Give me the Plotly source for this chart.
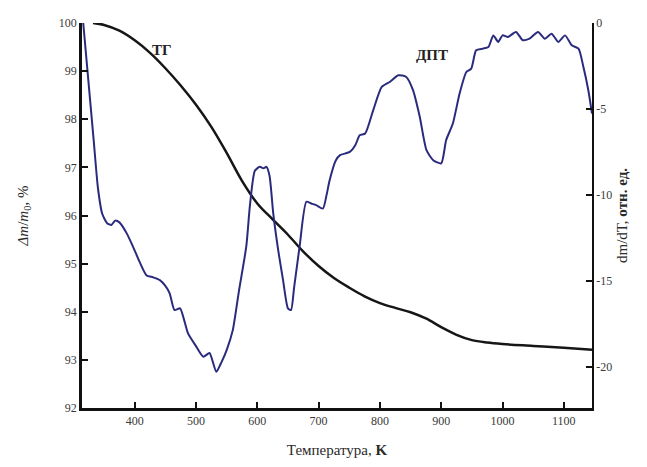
import plotly.graph_objects as go

# TG curve (left axis, %)
tg_temp = [332, 350, 375, 400, 425, 450, 475, 500, 525, 550, 575, 600, 625, 650, 675,
           700, 725, 750, 775, 800, 825, 850, 875, 900, 925, 950, 975, 1000, 1050, 1100, 1146]
tg_mass = [100.0, 99.96, 99.84, 99.64, 99.38, 99.06, 98.70, 98.30, 97.84, 97.30, 96.72, 96.25,
           95.92, 95.60, 95.25, 94.95, 94.70, 94.50, 94.32, 94.18, 94.08, 93.99, 93.86, 93.68,
           93.52, 93.41, 93.36, 93.33, 93.29, 93.25, 93.21]

# DTG curve (right axis, rel. units)
dtg_temp = [316, 325, 333, 340, 347, 355, 362, 368, 375, 387, 397, 408, 419, 430, 441, 450,
            457, 465, 474, 480, 487, 500, 512, 522, 533, 542, 550, 560, 570, 582, 588, 596,
            604, 610, 615, 620, 626, 634, 642, 650, 655, 660, 669, 680, 688, 696, 707, 713,
            718, 728, 735, 751, 760, 767, 776, 789, 803, 816, 830, 843, 854, 865, 876, 887,
            900, 908, 919, 930, 941, 949, 957, 968, 977, 985, 993, 1000, 1009, 1022, 1033,
            1044, 1058, 1069, 1080, 1091, 1102, 1113, 1124, 1132, 1140, 1146]
dtg_value = [0, -3.6, -6.8, -9.6, -11.1, -11.65, -11.75, -11.5, -11.6, -12.24, -13.0, -13.9,
             -14.67, -14.8, -14.96, -15.3, -15.73, -16.7, -16.6, -17.2, -18.06, -18.8, -19.42,
             -19.2, -20.29, -19.7, -19.03, -17.87, -15.6, -13.0, -10.6, -8.6, -8.37, -8.45,
             -8.37, -8.9, -11.08, -13.2, -14.96, -16.6, -16.7, -15.4, -13.0, -10.4, -10.5,
             -10.6, -10.8, -10.0, -9.15, -8.0, -7.69, -7.5, -7.1, -6.53, -6.43, -5.08, -3.72,
             -3.43, -3.04, -3.14, -3.91, -5.46, -7.4, -7.98, -8.17, -6.82, -5.85, -4.1, -2.85,
             -2.65, -1.59, -1.49, -1.4, -0.72, -1.1, -0.72, -0.81, -0.52, -1.0, -0.91, -0.52,
             -0.91, -0.62, -1.1, -0.72, -1.3, -1.49, -2.56, -3.91, -5.27]

x_ticks = [400, 500, 600, 700, 800, 900, 1000, 1100]
y_ticks = [92, 93, 94, 95, 96, 97, 98, 99, 100]
y2_ticks = [0, -5, -10, -15, -20]
y2_ticktext = ["0", "-5", "-10", "-15", "-20"]

FONT = "Liberation Serif, Times New Roman, serif"
TXT = "#3a3a3a"

fig = go.Figure()
fig.add_trace(go.Scatter(x=tg_temp, y=tg_mass, mode="lines",
                         line=dict(color="#161616", width=2.5, shape="spline", smoothing=1.0),
                         showlegend=False))
fig.add_trace(go.Scatter(x=dtg_temp, y=dtg_value, mode="lines", yaxis="y2",
                         line=dict(color="#2b2b7e", width=2, shape="spline", smoothing=0.6),
                         showlegend=False))

# page body has an 8px default margin, so the figure is drawn 8px smaller
fig.update_layout(
    width=639, height=459,
    margin=dict(l=74, r=55, t=15, b=59),
    paper_bgcolor="white", plot_bgcolor="white",
    font=dict(family=FONT, size=12, color=TXT),
    xaxis=dict(range=[314, 1146], tickvals=x_ticks, ticks="inside", ticklen=6, tickwidth=2,
               tickcolor="#111", showline=True, linecolor="#111", linewidth=2.5,
               showgrid=False, zeroline=False, automargin=False,
               tickfont=dict(family=FONT, size=12, color=TXT),
               title=dict(text="Температура, <b>K</b>", font=dict(family=FONT, size=15, color="#2a2a2a"), standoff=18)),
    yaxis=dict(range=[92, 100], tickvals=y_ticks, ticks="inside", ticklen=6, tickwidth=2,
               tickcolor="#111", showline=True, linecolor="#111", linewidth=2.5,
               showgrid=False, zeroline=False, automargin=False,
               tickfont=dict(family=FONT, size=12, color=TXT),
               title=dict(text="<i>Δm</i>/<i>m</i><sub>0</sub>, %", font=dict(family=FONT, size=15, color="#2a2a2a"), standoff=27)),
    yaxis2=dict(range=[-22.4, 0], overlaying="y", side="right", tickvals=y2_ticks,
                ticktext=y2_ticktext, ticks="inside", ticklen=6, tickwidth=1.5,
                tickcolor="#111", showline=True, linecolor="#111", linewidth=1.8,
                showgrid=False, zeroline=False, automargin=False,
                tickfont=dict(family=FONT, size=12, color=TXT),
                title=dict(text="dm/dT, <b>отн. ед.</b>", font=dict(family=FONT, size=15, color="#2a2a2a"), standoff=5)),
    annotations=[
        dict(x=444, y=99.43, text="<b>ТГ</b>", showarrow=False, xref="x", yref="y",
             font=dict(family=FONT, size=15, color="#222")),
        dict(x=885, y=99.33, text="<b>ДПТ</b>", showarrow=False, xref="x", yref="y",
             font=dict(family=FONT, size=15, color="#222")),
    ],
)

fig.write_html("out.html")
